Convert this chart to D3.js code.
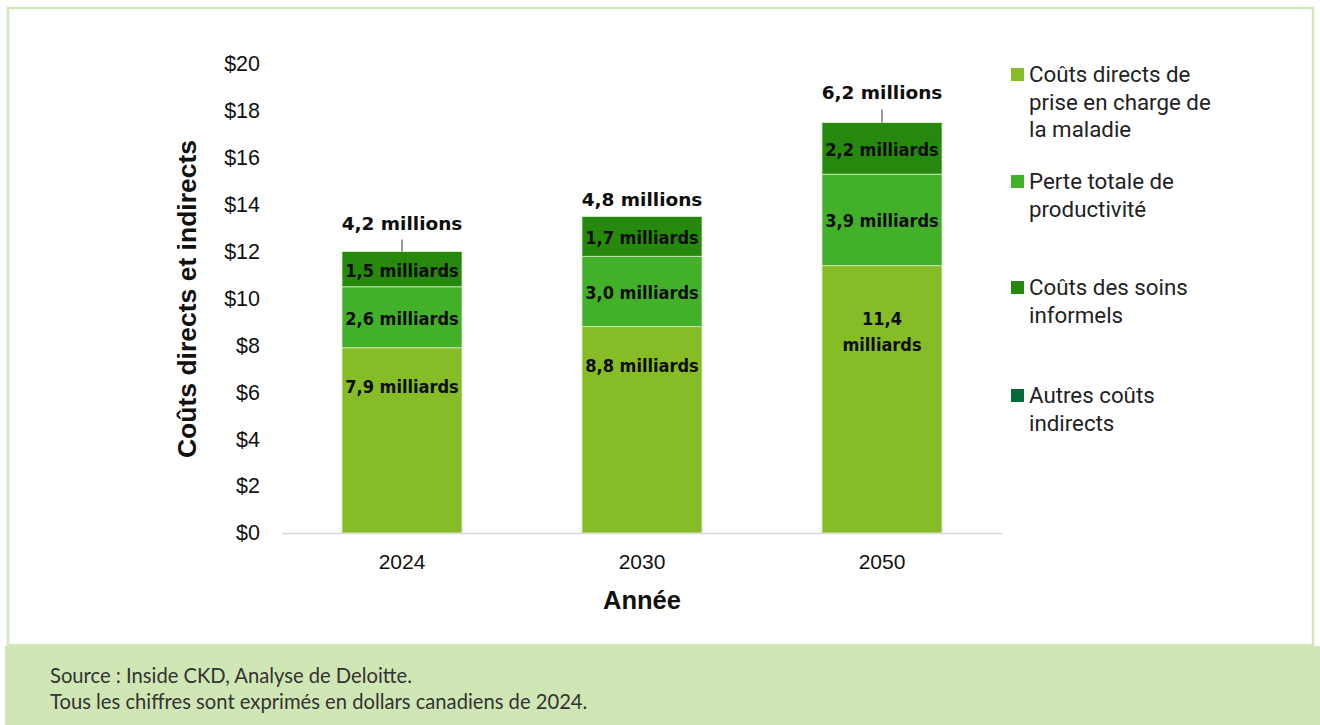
<!DOCTYPE html>
<html lang="fr">
<head>
<meta charset="utf-8">
<script src="https://cdn.jsdelivr.net/npm/d3@7"></script>
<style>
  html, body { margin: 0; padding: 0; background: #ffffff; }
  svg { display: block; }
  .seg-label { font-family: 'DejaVu Sans Condensed', 'DejaVu Sans', sans-serif; font-stretch: condensed; font-weight: bold; }
</style>
</head>
<body>
<svg id="chart" width="1320" height="725"></svg>
<script>
// Coûts de l'IRC au Canada, en milliards de dollars canadiens de 2024
const years = ["2024", "2030", "2050"];
const seriesNames = [
  "Coûts directs de prise en charge de la maladie",
  "Perte totale de productivité",
  "Coûts des soins informels",
  "Autres coûts indirects"
];
const directCosts = [7.9, 8.8, 11.4];
const productivityLoss = [2.6, 3.0, 3.9];
const informalCare = [1.5, 1.7, 2.2];
const otherIndirect = [0.0042, 0.0048, 0.0062]; // 4,2 / 4,8 / 6,2 millions
const otherIndirectLabels = ["4,2 millions", "4,8 millions", "6,2 millions"];
const legendLines = [
  ["Coûts directs de", "prise en charge de", "la maladie"],
  ["Perte totale de", "productivité"],
  ["Coûts des soins", "informels"],
  ["Autres coûts", "indirects"]
];
const yTicks = [0, 2, 4, 6, 8, 10, 12, 14, 16, 18, 20];
const sourceNotes = [
  "Source : Inside CKD, Analyse de Deloitte.",
  "Tous les chiffres sont exprimés en dollars canadiens de 2024."
];

const colors = ["#86bc25", "#43b02a", "#26890d", "#046a38"];
const leaderLen = [12, 0, 13];
const axisFont = "'Liberation Sans', Arial, sans-serif";
const labelFont = "'DejaVu Sans', sans-serif";

const svg = d3.select("#chart");

// cadre et bandeau de source
svg.append("rect").attr("x", 8).attr("y", 8).attr("width", 1305).attr("height", 637)
  .attr("fill", "#ffffff").attr("stroke", "#d3e8b8").attr("stroke-width", 2.5);
svg.append("rect").attr("x", 5).attr("y", 646).attr("width", 1315).attr("height", 79)
  .attr("fill", "#d0e6b4");
svg.append("g").selectAll("text").data(sourceNotes).join("text")
  .attr("x", 50).attr("y", (d, i) => 683 + i * 26)
  .attr("font-family", "Lato, 'Open Sans', sans-serif").attr("font-size", 20.2)
  .attr("fill", "#333333").text(d => d);

// échelles
const x = d3.scaleBand().domain(years).range([282, 1002]).paddingInner(0.5).paddingOuter(0.25);
const y = d3.scaleLinear().domain([0, 20]).range([533, 64]);

const rows = years.map((yr, i) => ({
  year: yr, d0: directCosts[i], d1: productivityLoss[i], d2: informalCare[i], d3: otherIndirect[i]
}));
const stacked = d3.stack().keys(["d0", "d1", "d2", "d3"])(rows);

// axe Y : étiquettes seulement
const yAxis = svg.append("g").attr("transform", "translate(270,0)")
  .call(d3.axisLeft(y).tickValues(yTicks).tickFormat(d => "$" + d).tickSize(0).tickPadding(10));
yAxis.select(".domain").remove();
yAxis.selectAll("text").attr("font-family", axisFont)
  .attr("font-size", 21.5).attr("fill", "#111111");

// barres empilées
const gBars = svg.append("g");
stacked.forEach((layer, k) => {
  gBars.append("g").attr("fill", colors[k]).selectAll("rect").data(layer).join("rect")
    .attr("x", d => x(d.data.year))
    .attr("y", d => y(d[1]))
    .attr("width", x.bandwidth())
    .attr("height", d => y(d[0]) - y(d[1]))
    .attr("stroke", "#d8ecc4").attr("stroke-width", 0.8);
});

// axe X
svg.append("line").attr("x1", 282).attr("x2", 1002).attr("y1", 533.5).attr("y2", 533.5)
  .attr("stroke", "#d9d9d9").attr("stroke-width", 1.5);
const xAxis = svg.append("g").attr("transform", "translate(0,533)")
  .call(d3.axisBottom(x).tickSize(0).tickPadding(21));
xAxis.select(".domain").remove();
xAxis.selectAll("text").attr("font-family", axisFont)
  .attr("font-size", 21).attr("fill", "#111111");

// titres des axes
svg.append("text").attr("x", 642).attr("y", 609).attr("text-anchor", "middle")
  .attr("font-family", axisFont).attr("font-weight", "bold")
  .attr("font-size", 25.5).attr("fill", "#111111").text("Année");
svg.append("text").attr("transform", "translate(196,299) rotate(-90)").attr("text-anchor", "middle")
  .attr("font-family", axisFont).attr("font-weight", "bold")
  .attr("font-size", 26.5).attr("fill", "#111111").text("Coûts directs et indirects");

// étiquettes de valeur des segments (taille ajustée pour tenir dans la barre)
const fmt = v => d3.format(".1f")(v).replace(".", ",");
const gLab = svg.append("g");
const sizer = gLab.append("text").attr("class", "seg-label").attr("font-size", 18).text("1,5 milliards");
const segSize = Math.min(18, 18 * 114 / sizer.node().getComputedTextLength());
sizer.remove();
[0, 1, 2].forEach(k => {
  stacked[k].forEach(d => {
    const cx = x(d.data.year) + x.bandwidth() / 2;
    const full = fmt(d[1] - d[0]) + " milliards";
    const probe = gLab.append("text").attr("class", "seg-label").attr("font-size", segSize).text(full);
    const tooWide = probe.node().getComputedTextLength() > x.bandwidth() - 4;
    probe.remove();
    const lines = tooWide ? full.split(" ") : [full];
    let cy;
    if (k === 0) cy = y(d[1]) + 39 + (lines.length - 1) * 27;
    else cy = (y(d[0]) + y(d[1])) / 2 + 1;
    const t = gLab.append("text").attr("class", "seg-label").attr("text-anchor", "middle")
      .attr("font-size", segSize).attr("fill", "#0d0d0d");
    lines.forEach((ln, j) => {
      t.append("tspan").attr("x", cx)
        .attr("y", cy + (j - (lines.length - 1) / 2) * 26 + 6.5).text(ln);
    });
  });
});

// étiquettes « Autres coûts indirects » au-dessus des piles
stacked[3].forEach((d, i) => {
  const cx = x(d.data.year) + x.bandwidth() / 2;
  const top = y(d[1]);
  if (leaderLen[i] > 0) {
    svg.append("line").attr("x1", cx).attr("x2", cx).attr("y1", top - leaderLen[i]).attr("y2", top)
      .attr("stroke", "#333333").attr("stroke-width", 1);
  }
  svg.append("text").attr("x", cx).attr("y", top - leaderLen[i] - 10).attr("text-anchor", "middle")
    .attr("font-family", labelFont).attr("font-weight", "bold")
    .attr("font-size", 18.5).attr("fill", "#0d0d0d").text(otherIndirectLabels[i]);
});

// légende
const legendBase = 82;
const legendStep = [0, 107, 213, 321];
const gLeg = svg.append("g");
legendLines.forEach((lines, i) => {
  const by = legendBase + legendStep[i];
  gLeg.append("rect").attr("x", 1011).attr("y", by - 14).attr("width", 13).attr("height", 13)
    .attr("fill", colors[i]);
  const t = gLeg.append("text").attr("font-family", "Roboto, 'Liberation Sans', sans-serif")
    .attr("font-size", 22.3).attr("fill", "#222222");
  lines.forEach((ln, j) => {
    t.append("tspan").attr("x", 1029).attr("y", by + j * 27.5).text(ln);
  });
});
</script>
</body>
</html>
